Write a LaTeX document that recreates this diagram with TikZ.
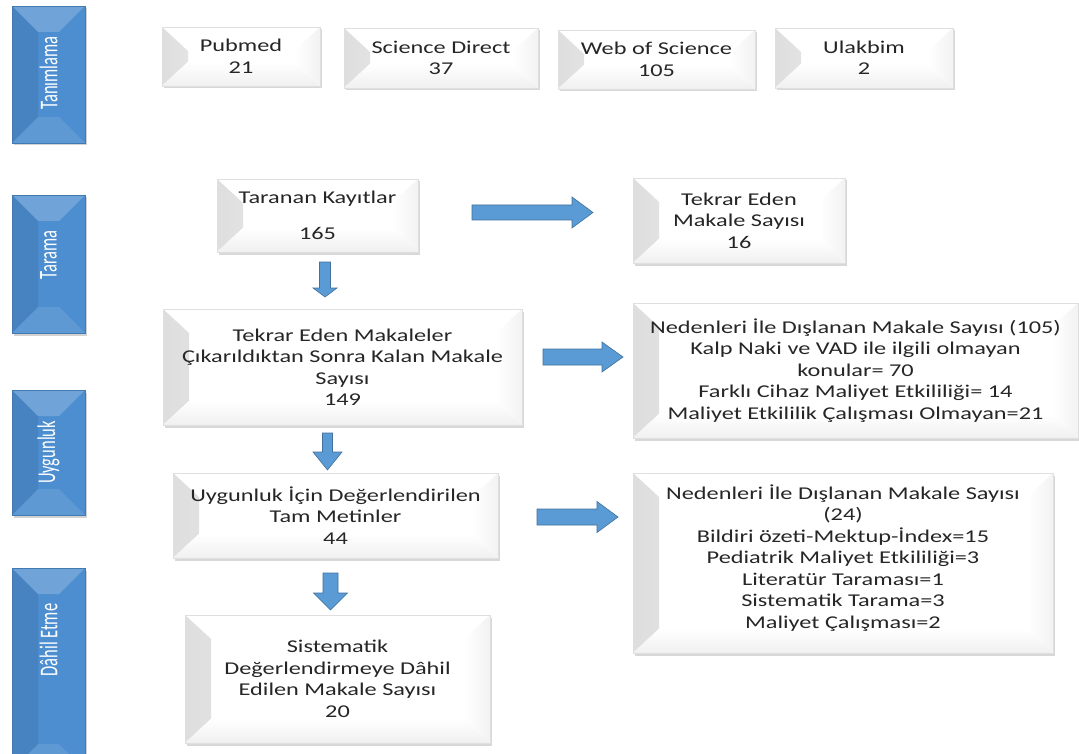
\documentclass[tikz,border=0pt]{standalone}
\usepackage{fontspec}
\setmainfont{Carlito}
\newfontfamily\boxfont[FakeStretch=1.35]{Carlito}
\newfontfamily\labfont{Carlito}
\usetikzlibrary{shadows,calc}
\definecolor{arrowblue}{HTML}{5B9BD5}
\definecolor{arrowedge}{HTML}{41719C}
\definecolor{labblue}{HTML}{4D8ED0}
\definecolor{txt}{HTML}{262626}
\tikzset{
  whitebox/.style={draw=gray!25, line width=0.4pt, fill=white,
    drop shadow={shadow xshift=1.5pt, shadow yshift=-2.5pt, opacity=0.3, fill=gray},
    inner sep=0pt, align=center, text=txt,
    font=\boxfont\fontsize{18}{21.5}\selectfont,
    path picture={
      \fill[left color=gray!26, right color=white]
        (path picture bounding box.north west)
        -- ($(path picture bounding box.north west)+(26,24)$)
        -- ($(path picture bounding box.south west)+(26,-24)$)
        -- (path picture bounding box.south west) -- cycle;
      \fill[top color=white, bottom color=gray!12]
        (path picture bounding box.south west)
        -- ($(path picture bounding box.south west)+(26,-24)$)
        -- ($(path picture bounding box.south east)+(-26,-24)$)
        -- (path picture bounding box.south east) -- cycle;
      \fill[left color=white, right color=gray!10]
        (path picture bounding box.south east)
        -- ($(path picture bounding box.south east)+(-26,-24)$)
        -- ($(path picture bounding box.north east)+(-26,24)$)
        -- (path picture bounding box.north east) -- cycle;
    }},
  labelbox/.style={draw=labblue!85!black, line width=0.4pt, fill=labblue,
    drop shadow={shadow xshift=1.5pt, shadow yshift=-2.5pt, opacity=0.35, fill=gray},
    inner sep=0pt, minimum width=73,
    path picture={
      \fill[white, opacity=0.2]
        (path picture bounding box.north west)
        -- (path picture bounding box.north east)
        -- ($(path picture bounding box.north east)+(-26,26)$)
        -- ($(path picture bounding box.north west)+(26,26)$) -- cycle;
      \fill[white, opacity=0.1]
        (path picture bounding box.south west)
        -- (path picture bounding box.south east)
        -- ($(path picture bounding box.south east)+(-26,-26)$)
        -- ($(path picture bounding box.south west)+(26,-26)$) -- cycle;
      \fill[black, opacity=0.07]
        (path picture bounding box.north west)
        -- ($(path picture bounding box.north west)+(26,26)$)
        -- ($(path picture bounding box.south west)+(26,-26)$)
        -- (path picture bounding box.south west) -- cycle;
    }},
  labeltext/.style={text=white, inner sep=0pt, font=\labfont\fontsize{16.5}{18}\selectfont},
  blockarrow/.style={fill=arrowblue, draw=arrowedge, line width=0.6pt, line join=miter},
}
\newcommand\wbox[6]{\node[whitebox, minimum width={#4-#2}, minimum height={#5-#3}] (#1) at ({(#2+#4)/2},{(#3+#5)/2}) {#6};}
\newcommand\lbox[3]{\node[labelbox, minimum height={#3-#2}] (#1) at (48.5,{(#2+#3)/2}) {};}
\newcommand\ltext[3]{\node[labeltext] (#1) at (48.5,#2) {\rotatebox{90}{\scalebox{1}[1.55]{#3}}};}
\newcommand\rarr[6]{\filldraw[blockarrow] (#1,{#3-#4}) -- (#6,{#3-#4}) -- (#6,{#3-#5}) -- (#2,#3) -- (#6,{#3+#5}) -- (#6,{#3+#4}) -- (#1,{#3+#4}) -- cycle;}
\newcommand\darr[6]{\filldraw[blockarrow] ({#3-#4},#1) -- ({#3-#4},#6) -- ({#3-#5},#6) -- (#3,#2) -- ({#3+#5},#6) -- ({#3+#4},#6) -- ({#3+#4},#1) -- cycle;}
\begin{document}
\begin{tikzpicture}[x=1pt,y=-1pt]
\fill[white] (0,0) rectangle (1079,754);
\useasboundingbox (0,0) rectangle (1079,754);
\clip (0,0) rectangle (1079,754);
% side labels
\lbox{lab1}{6}{143}
\lbox{lab2}{195}{333}
\lbox{lab3}{390}{515}
\lbox{lab4}{568}{770}
\ltext{lt1}{73}{Tanımlama}
\ltext{lt2}{255}{Tarama}
\ltext{lt3}{452.5}{Uygunluk}
\ltext{lt4}{640}{Dâhil Etme}
% top boxes
\wbox{pub}{162}{27}{320}{86}{Pubmed\\21}
\wbox{sd}{344}{28}{538}{88}{Science Direct\\37}
\wbox{wos}{558}{30}{755}{89}{Web of Science\\105}
\wbox{ulak}{775}{28}{953}{88}{Ulakbim\\2}
% main column
\wbox{tar}{217}{179}{418}{252}{Taranan Kayıtlar\\[15pt]165}
\wbox{tek}{163}{309}{522}{425}{Tekrar Eden Makaleler\\Çıkarıldıktan Sonra Kalan Makale\\Sayısı\\149}
\wbox{uyg}{173}{473}{498}{558}{Uygunluk İçin Değerlendirilen\\Tam Metinler\\44}
\wbox{sis}{185}{615}{490}{743}{Sistematik\\Değerlendirmeye Dâhil\\Edilen Makale Sayısı\\20}
% right column
\wbox{tms}{633}{178}{845}{263}{Tekrar Eden\\Makale Sayısı\\16}
\wbox{ned1}{633}{303}{1078}{438}{Nedenleri İle Dışlanan Makale Sayısı (105)\\Kalp Naki ve VAD ile ilgili olmayan\\konular= 70\\Farklı Cihaz Maliyet Etkililiği= 14\\Maliyet Etkililik Çalışması Olmayan=21}
\wbox{ned2}{633}{473}{1053}{653}{Nedenleri İle Dışlanan Makale Sayısı\\(24)\\Bildiri özeti-Mektup-İndex=15\\Pediatrik Maliyet Etkililiği=3\\Literatür Taraması=1\\Sistematik Tarama=3\\Maliyet Çalışması=2\\[-8pt]}
% arrows
\rarr{472}{593}{212.5}{7.5}{15.5}{572}
\rarr{543}{623}{357}{8}{15}{602}
\rarr{537}{618}{517}{8}{15.5}{597}
\darr{262}{297}{325}{5.5}{12}{288}
\darr{433}{470}{327.5}{5}{14.5}{452}
\darr{573}{610}{330.5}{7.5}{17}{593}
\end{tikzpicture}
\end{document}
